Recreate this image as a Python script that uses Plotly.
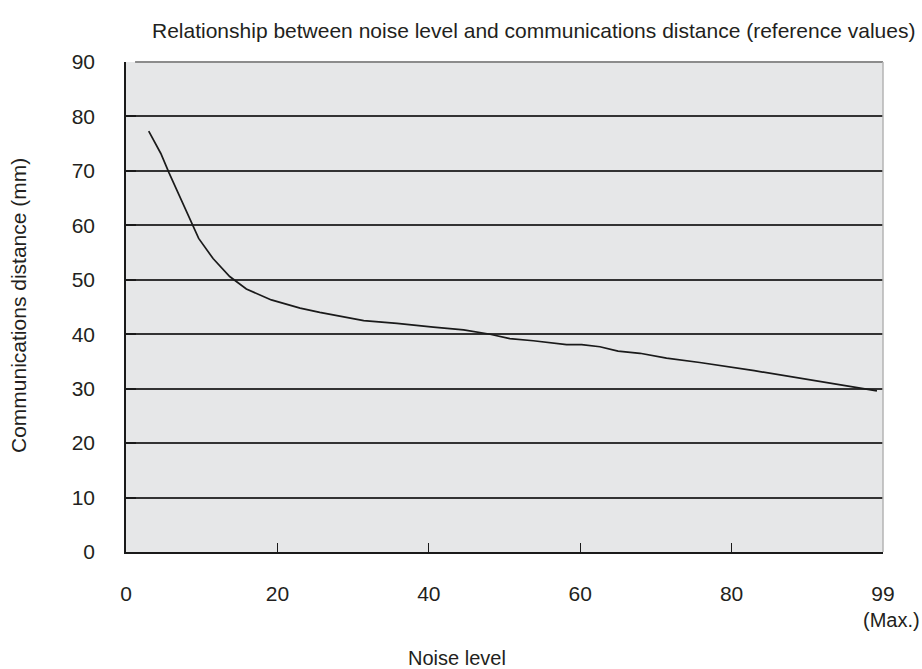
import plotly.graph_objs as go

# Values
noise_level = [3.0, 4.6, 5.7, 8.7, 9.6, 11.5, 13.7, 15.9, 19.2, 23.0, 25.6, 31.4,
               35.8, 40.6, 44.6, 48.1, 50.7, 53.8, 58.2, 60.2, 62.6, 65.0, 67.9,
               71.4, 75.8, 83.0, 90.0, 99.2]
distance_mm = [77.3, 73.2, 69.6, 60.4, 57.6, 53.9, 50.6, 48.3, 46.3, 44.8, 44.0, 42.5,
               42.0, 41.3, 40.8, 40.0, 39.2, 38.8, 38.1, 38.1, 37.7, 36.9, 36.5,
               35.6, 34.8, 33.3, 31.7, 29.6]

x_ticks = [0, 20, 40, 60, 80, 100]
x_tick_text = ["0", "20", "40", "60", "80", "99"]
y_ticks = [0, 10, 20, 30, 40, 50, 60, 70, 80, 90]

FONT = "Liberation Sans, Arial, sans-serif"
TXT = "#231f20"

W, H = 922, 669
PX_L, PX_R, PX_T, PX_B = 126, 883, 62, 552   # plot area in window pixels
PW, PH = PX_R - PX_L, PX_B - PX_T


def px(x):
    return (x - PX_L) / PW


def py(y):
    return (PX_B - y) / PH


fig = go.Figure()
fig.add_trace(go.Scatter(
    x=noise_level, y=distance_mm, mode="lines",
    line=dict(color="#1a1a1a", width=1.7),
    showlegend=False, hoverinfo="x+y",
))

fig.update_layout(
    width=W, height=H,
    margin=dict(l=PX_L, r=W - PX_R, t=PX_T, b=H - PX_B),
    paper_bgcolor="white",
    plot_bgcolor="#e6e7e8",
    font=dict(family=FONT, size=21, color=TXT),
    xaxis=dict(
        range=[0, 100], tickvals=x_ticks, ticktext=x_tick_text,
        showgrid=False, zeroline=False,
        showline=True, linecolor="#1a1a1a", linewidth=1.5,
        ticks="inside", ticklen=9, tickwidth=1.2, tickcolor="#1a1a1a",
        ticklabelstandoff=22,
    ),
    yaxis=dict(
        range=[0, 90], tickvals=y_ticks,
        showgrid=True, gridcolor="#333333", gridwidth=1.6, zeroline=False,
        showline=True, linecolor="#1a1a1a", linewidth=1.5,
        ticks="inside", ticklen=10, tickwidth=1.5, tickcolor="#1a1a1a",
        ticklabelstandoff=25,
    ),
    shapes=[
        dict(type="line", xref="paper", yref="paper", x0=0.012, x1=1, y0=1, y1=1,
             line=dict(color="#8c8c8c", width=2), layer="above"),
        dict(type="line", xref="paper", yref="paper", x0=1, x1=1, y0=0, y1=1,
             line=dict(color="#b4b4b4", width=1.5), layer="above"),
    ],
    annotations=[
        dict(text="Relationship between noise level and communications distance (reference values)",
             xref="paper", yref="paper", x=px(533), y=py(30),
             xanchor="center", yanchor="middle", showarrow=False, font=dict(size=21)),
        dict(text="Noise level", xref="paper", yref="paper",
             x=px(457), y=py(658),
             xanchor="center", yanchor="middle", showarrow=False, font=dict(size=20)),
        dict(text="Communications distance (mm)", xref="paper", yref="paper",
             x=px(18), y=py(306), textangle=-90,
             xanchor="center", yanchor="middle", showarrow=False, font=dict(size=21)),
        dict(text="(Max.)", xref="paper", yref="paper",
             x=px(891), y=py(620),
             xanchor="center", yanchor="middle", showarrow=False, font=dict(size=20)),
    ],
)

# drop the default body margin so the figure fills the window exactly
fig.write_html("out.html", config={"displayModeBar": False},
               post_script="document.body.style.margin='0';document.body.style.overflow='hidden';")
